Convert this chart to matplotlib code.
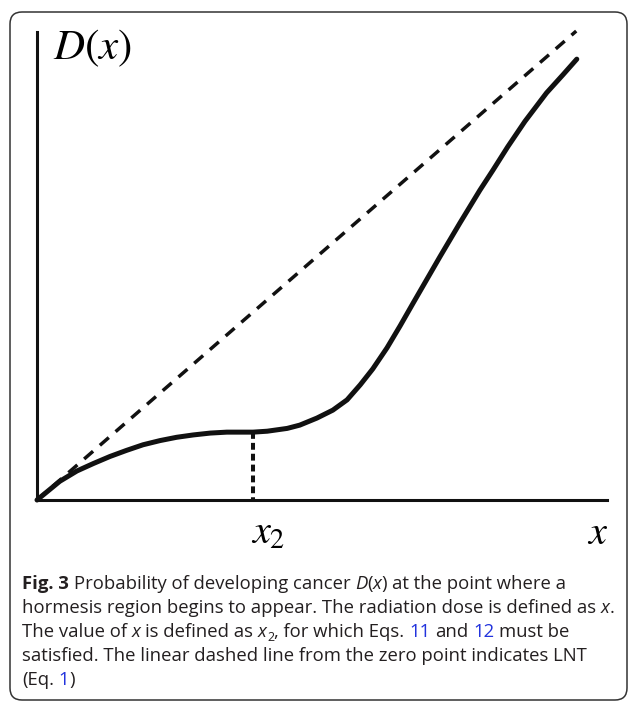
import matplotlib
matplotlib.use('Agg')
import matplotlib.pyplot as plt
from matplotlib.patches import FancyBboxPatch
from matplotlib.transforms import IdentityTransform

# ── Data (arbitrary units) ────────────────────────────────────────────
dose = [0, 0.040, 0.070, 0.099, 0.128, 0.157, 0.186, 0.216, 0.245, 0.274,
        0.304, 0.333, 0.379, 0.404, 0.439, 0.461, 0.491, 0.519, 0.544, 0.567,
        0.589, 0.614, 0.637, 0.660, 0.707, 0.742, 0.777, 0.800, 0.826, 0.856,
        0.894, 0.923, 0.947]
risk = [0, 0.040, 0.062, 0.078, 0.093, 0.106, 0.118, 0.127, 0.134, 0.139,
        0.143, 0.145, 0.145, 0.147, 0.153, 0.160, 0.175, 0.192, 0.214, 0.246,
        0.280, 0.325, 0.372, 0.421, 0.520, 0.592, 0.662, 0.705, 0.755, 0.809,
        0.870, 0.909, 0.942]
lnt_dose = [0, 0.946]
lnt_risk = [0, 1.002]
x2 = 0.379
d_x2 = 0.145

caption = [
    [("Fig. 3", 'b'), (" Probability of developing cancer", 'n'), (" D", 'i'),
     ("(", 'n'), ("x", 'i'), (")", 'n'), (" at the point where a", 'n')],
    [("hormesis region begins to appear. The radiation dose is defined as", 'n'),
     (" x", 'i'), (".", 'n')],
    [("The value of", 'n'), (" x", 'i'), (" is defined as", 'n'), (" x", 'i'),
     ("2", 'sub'), (", for which Eqs.", 'n'), (" 11", 'link'), (" and", 'n'),
     (" 12", 'link'), (" must be", 'n')],
    [("satisfied. The linear dashed line from the zero point indicates LNT", 'n')],
    [("(Eq.", 'n'), (" 1", 'link'), (")", 'n')],
]

# ── Figure ────────────────────────────────────────────────────────────
W, H = 629, 701
plt.rcParams['mathtext.fontset'] = 'stix'
fig = plt.figure(figsize=(W / 100, H / 100), dpi=100)

# rounded frame around figure + caption
frame = FancyBboxPatch((10, 1), 617, 688, boxstyle='round,pad=0,rounding_size=12',
                       transform=IdentityTransform(), fill=False,
                       edgecolor='#333333', linewidth=1.1)
fig.patches.append(frame)

ax = fig.add_axes([37 / W, 201 / H, 570 / W, 468 / H])
ax.set_xlim(0, 1)
ax.set_ylim(0, 1)
for side in ['top', 'right']:
    ax.spines[side].set_visible(False)
for side in ['left', 'bottom']:
    ax.spines[side].set_linewidth(2.2)
    ax.spines[side].set_color('#111111')
ax.set_xticks([])
ax.set_yticks([])

ax.plot(lnt_dose, lnt_risk, color='#111111', lw=2.5, dashes=(3.4, 2.6),
        clip_on=False)
ax.plot(dose, risk, color='#111111', lw=3.6, solid_joinstyle='round',
        solid_capstyle='round', clip_on=False)
ax.plot([x2, x2], [d_x2, 0], color='#111111', lw=2.9, dashes=(1.7, 1.0))

ax.annotate(r'$D(x)$', xy=(0, 1), xycoords='axes fraction', xytext=(16, 5),
            textcoords='offset pixels', ha='left', va='top', fontsize=31)
ax.annotate(r'$x_2$', xy=(x2, 0), xycoords=('data', 'axes fraction'),
            xytext=(-2, -44), textcoords='offset pixels', ha='left',
            va='baseline', fontsize=29)
ax.annotate(r'$x$', xy=(1, 0), xycoords='axes fraction', xytext=(-20, -44),
            textcoords='offset pixels', ha='left', va='baseline', fontsize=29)

# ── Caption ───────────────────────────────────────────────────────────
txt = '#231f20'
fs = 13.3
styles = {
    'n': dict(family='Open Sans', size=fs, color=txt),
    'b': dict(family='Open Sans', size=fs, color=txt, weight='bold'),
    'i': dict(family='Open Sans', size=fs, color=txt, style='italic'),
    'link': dict(family='Open Sans', size=fs, color='#2233dd'),
    'sub': dict(family='Open Sans', size=9, color=txt),
}
r = fig.canvas.get_renderer()

def width(s, st):
    t = fig.text(0, 0, s, **styles[st])
    w = t.get_window_extent(r).width
    t.remove()
    return w

space = width('a a', 'n') - width('aa', 'n')
baselines = [589, 613, 637, 661, 685]

for y, runs in zip(baselines, caption):
    x = 22
    for s, st in runs:
        if s.startswith(' '):
            x += space
            s = s[1:]
        dy = 4 if st == 'sub' else 0
        t = fig.text(x / W, 1 - (y + dy) / H, s, va='baseline', ha='left',
                     **styles[st])
        x += t.get_window_extent(r).width

fig.savefig('out.png', dpi=100)
